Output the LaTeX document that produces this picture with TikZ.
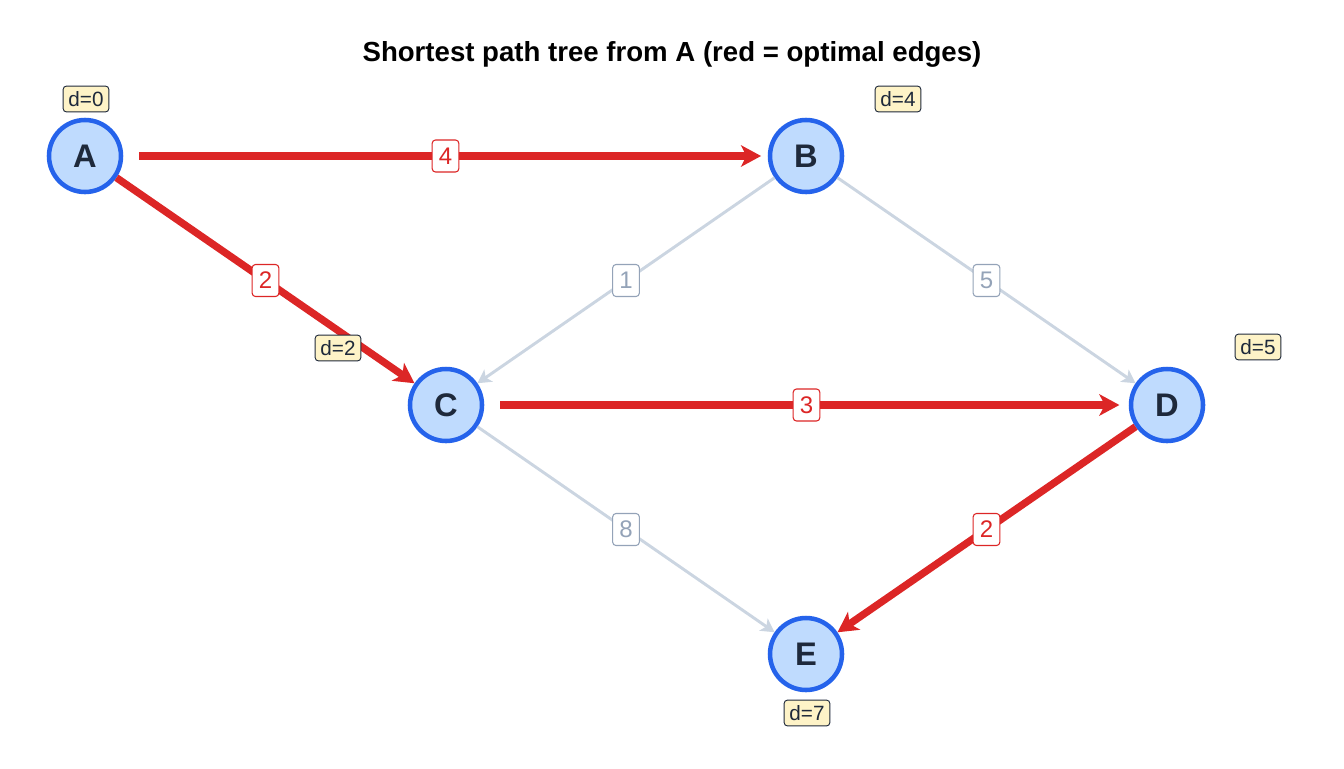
\documentclass[tikz,border=0pt]{standalone}
\usepackage{fontspec}
\setmainfont{Liberation Sans}
\usetikzlibrary{arrows.meta}
\definecolor{nodefill}{HTML}{BFDBFE}
\definecolor{nodeline}{HTML}{2563EB}
\definecolor{nodetext}{HTML}{1E293B}
\definecolor{optred}{HTML}{DC2626}
\definecolor{edgegray}{HTML}{CBD5E1}
\definecolor{labelgray}{HTML}{94A3B8}
\definecolor{distfill}{HTML}{FEF3C7}
\tikzset{
  vertex/.style={circle, draw=nodeline, fill=nodefill, line width=3.4pt,
    minimum size=54pt, inner sep=0pt, text=nodetext,
    font=\fontsize{24.5}{27}\selectfont\bfseries},
  optedge/.style={optred, line width=5.5pt,
    -{Stealth[length=15pt,width=16pt,inset=4pt]}},
  grayedge/.style={edgegray, line width=2.2pt,
    -{Stealth[length=10pt,width=11pt,inset=2.5pt]}},
  wlabel/.style={fill=white, draw, line width=0.8pt, rounded corners=2.5pt,
    minimum width=20pt, minimum height=24pt, inner sep=1pt,
    font=\fontsize{18}{20}\selectfont},
  optlabel/.style={wlabel, draw=optred, text=optred},
  graylabel/.style={wlabel, draw=labelgray, text=labelgray},
  dist/.style={fill=distfill, draw=nodetext, line width=0.7pt,
    rounded corners=2.5pt, inner xsep=4pt, inner ysep=4pt, text=nodetext,
    font=\fontsize{15.5}{17}\selectfont},
}
\begin{document}
\begin{tikzpicture}[x=0.75pt,y=-0.75pt]
  \useasboundingbox (0,0) rectangle (1344,768);
  \node[font=\fontsize{20.7}{24}\selectfont\bfseries] (title) at (672,54)
    {Shortest path tree from A (red = optimal edges)};
  % vertices
  \node[vertex] (A) at (85,156) {A};
  \node[vertex] (B) at (806,156) {B};
  \node[vertex] (C) at (446,405) {C};
  \node[vertex] (D) at (1167,405) {D};
  \node[vertex] (E) at (806,654) {E};
  % non-optimal edges
  \draw[grayedge] (B) -- (C) node[midway, graylabel] {1};
  \draw[grayedge] (B) -- (D) node[midway, graylabel] {5};
  \draw[grayedge] (C) -- (E) node[midway, graylabel] {8};
  % optimal edges
  \draw[optedge, shorten <=12pt, shorten >=5pt] (A) -- (B) node[midway, optlabel] {4};
  \draw[optedge] (A) -- (C) node[midway, optlabel] {2};
  \draw[optedge, shorten <=12pt, shorten >=7pt] (C) -- (D) node[midway, optlabel] {3};
  \draw[optedge] (D) -- (E) node[midway, optlabel] {2};
  % distances
  \node[dist] (dA) at (86,99) {d=0};
  \node[dist] (dB) at (898,99) {d=4};
  \node[dist] (dC) at (338,348) {d=2};
  \node[dist] (dD) at (1258,347) {d=5};
  \node[dist] (dE) at (807,713) {d=7};
\end{tikzpicture}
\end{document}
